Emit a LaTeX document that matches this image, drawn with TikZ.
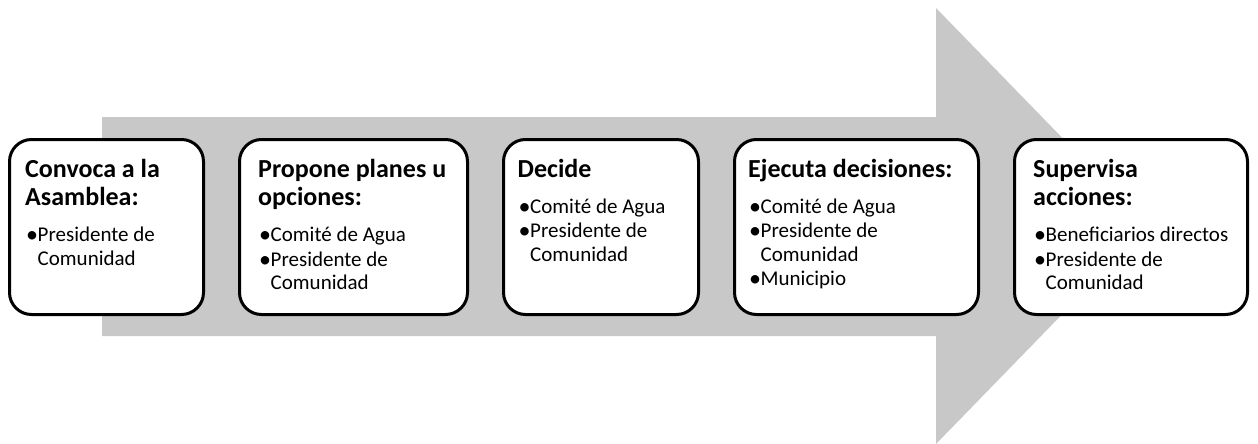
\documentclass[tikz,border=0pt]{standalone}
\usepackage{fontspec}
\setmainfont{Carlito}
\usetikzlibrary{calc}
\definecolor{arrowgray}{RGB}{200,200,200}
\tikzset{
  box/.style={draw=black, line width=3pt, rounded corners=22pt, fill=white, inner sep=0pt},
  ttl/.style={anchor=base west, inner sep=0pt, font=\fontsize{26}{28}\selectfont\bfseries},
  itm/.style={anchor=base west, inner sep=0pt, font=\fontsize{21}{23}\selectfont},
  bul/.style={anchor=base west, inner sep=0pt, font=\fontsize{24}{26}\selectfont},
}
\newcommand{\bitem}[4]{\node[bul] (#1b) at (#2+1,#3+1) {•};\node[itm] (#1) at (#2+12.5,#3) {#4};}
\newcommand{\contline}[4]{\node[itm] (#1) at (#2+12.5,#3) {#4};}
\begin{document}
\begin{tikzpicture}[x=1pt,y=-1pt]
\useasboundingbox (0,0) rectangle (1258,444);
% big arrow
\fill[arrowgray] (102,117) -- (936,117) -- (936,8) -- (1148,226) -- (936,444) -- (936,336) -- (102,336) -- cycle;
% boxes
\node[box, minimum width=194pt, minimum height=175pt] (b1) at (106.5,227) {};
\node[box, minimum width=228pt, minimum height=175pt] (b2) at (353.5,227) {};
\node[box, minimum width=195pt, minimum height=175pt] (b3) at (601,227) {};
\node[box, minimum width=244pt, minimum height=175pt] (b4) at (856.5,227) {};
\node[box, minimum width=233pt, minimum height=175pt] (b5) at (1131,227) {};
% box 1
\node[ttl] (t1a) at (25,177.5) {Convoca a la};
\node[ttl] (t1b) at (25,205.8) {Asamblea:};
\bitem{i1a}{25}{241.7}{Presidente de}
\contline{i1c}{25}{265}{Comunidad}
% box 2
\node[ttl] (t2a) at (258,177.5) {Propone planes u};
\node[ttl] (t2b) at (258,205.8) {opciones:};
\bitem{i2a}{258}{241.7}{Comité de Agua}
\bitem{i2b}{258}{266.2}{Presidente de}
\contline{i2c}{258}{289.5}{Comunidad}
% box 3
\node[ttl] (t3a) at (517.5,177.5) {Decide};
\bitem{i3a}{517.5}{213.3}{Comité de Agua}
\bitem{i3b}{517.5}{237.8}{Presidente de}
\contline{i3c}{517.5}{261.1}{Comunidad}
% box 4
\node[ttl] (t4a) at (748,177.5) {Ejecuta decisiones:};
\bitem{i4a}{748}{213.3}{Comité de Agua}
\bitem{i4b}{748}{237.8}{Presidente de}
\contline{i4c}{748}{261.1}{Comunidad}
\bitem{i4d}{748}{285.6}{Municipio}
% box 5
\node[ttl] (t5a) at (1033,177.5) {Supervisa};
\node[ttl] (t5b) at (1033,205.8) {acciones:};
\bitem{i5a}{1033}{241.7}{Beneficiarios directos}
\bitem{i5b}{1033}{266.2}{Presidente de}
\contline{i5c}{1033}{289.5}{Comunidad}
\end{tikzpicture}
\end{document}
